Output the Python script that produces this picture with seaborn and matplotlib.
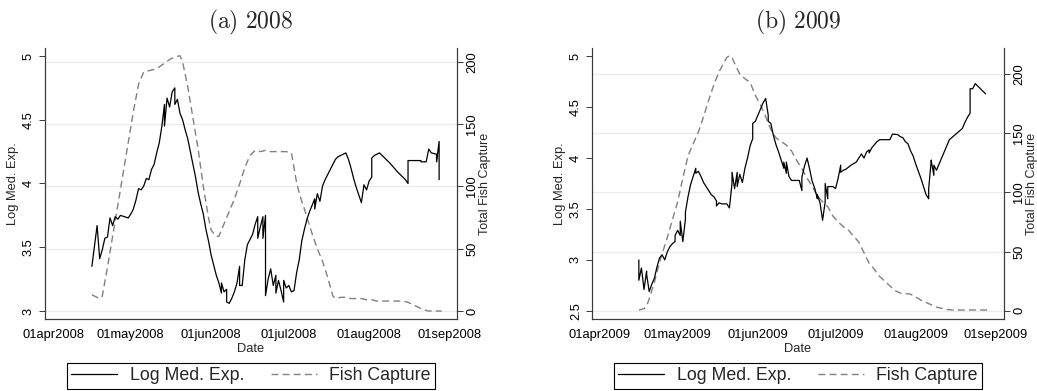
import numpy as np
import pandas as pd
import matplotlib
matplotlib.use("Agg")
import matplotlib.pyplot as plt
import matplotlib.dates as mdates
from matplotlib.ticker import FuncFormatter
from matplotlib.lines import Line2D
import seaborn as sns

# ---------------- data (days counted from 1 April of each year) ----------------
log08_day = [15, 17, 18, 19, 20, 21, 22, 23, 24, 25, 26, 29, 30, 31, 32, 33, 34, 35, 36, 37,
             38, 39, 40, 41, 42, 43, 43, 44, 45, 46, 47, 47, 48, 49, 50, 51, 52, 53, 54, 55,
             56, 57, 58, 59, 60, 61, 62, 63, 64, 65, 65, 66, 67, 67, 68, 69, 70, 71, 72, 72,
             73, 74, 75, 76, 77, 78, 79, 79, 80, 81, 81, 82, 82, 83, 84, 85, 86, 86, 87, 88,
             89, 89, 90, 91, 92, 93, 94, 95, 96, 97, 98, 99, 100, 101, 101, 102, 103, 104, 105, 106,
             107, 108, 109, 110, 111, 112, 113, 114, 115, 116, 117, 118, 119, 120, 121, 122, 123, 123, 124, 126,
             130, 133, 136, 137, 137, 142, 142, 144, 145, 146, 148, 148, 149, 149]
log08_val = [3.35, 3.67, 3.41, 3.48, 3.57, 3.58, 3.73, 3.67, 3.74, 3.72, 3.75, 3.73, 3.76, 3.80, 3.87, 3.96, 3.95, 3.98, 4.04, 4.03,
             4.11, 4.15, 4.24, 4.32, 4.45, 4.62, 4.45, 4.67, 4.60, 4.72, 4.75, 4.62, 4.66, 4.55, 4.50, 4.42, 4.35, 4.25, 4.15, 4.05,
             3.93, 3.84, 3.76, 3.64, 3.55, 3.44, 3.36, 3.28, 3.22, 3.14, 3.22, 3.15, 3.17, 3.07, 3.06, 3.10, 3.15, 3.22, 3.35, 3.20,
             3.20, 3.40, 3.52, 3.56, 3.60, 3.68, 3.74, 3.57, 3.66, 3.74, 3.57, 3.75, 3.12, 3.25, 3.33, 3.20, 3.28, 3.14, 3.24, 3.16,
             3.07, 3.24, 3.18, 3.20, 3.15, 3.16, 3.30, 3.40, 3.55, 3.64, 3.72, 3.78, 3.83, 3.88, 3.80, 3.92, 3.86, 3.98, 4.03, 4.07,
             4.11, 4.15, 4.19, 4.21, 4.22, 4.23, 4.24, 4.19, 4.12, 4.04, 3.97, 3.91, 3.85, 3.99, 3.95, 4.02, 4.05, 4.20, 4.22, 4.24,
             4.16, 4.09, 4.03, 4.00, 4.18, 4.18, 4.17, 4.17, 4.27, 4.24, 4.23, 4.17, 4.33, 4.03]

fish08_day = [15, 18, 19, 21, 23, 25, 27, 29, 31, 33, 35, 37, 39, 41, 43, 45, 47, 49, 50, 52,
              54, 56, 58, 60, 61, 63, 64, 66, 68, 70, 72, 74, 76, 78, 80, 82, 84, 86, 88, 90,
              92, 93, 94, 95, 96, 97, 98, 100, 102, 104, 106, 108, 109, 111, 113, 115, 117, 119, 121, 123,
              125, 127, 129, 131, 133, 135, 137, 139, 141, 143, 145, 147, 149, 150]
fish08_val = [13, 10, 12, 35, 60, 85, 110, 135, 160, 182, 192, 193, 194, 196, 199, 202, 204, 205, 200, 180,
              155, 130, 100, 75, 65, 60, 60, 70, 80, 90, 102, 115, 125, 129, 128, 129, 128, 128, 128, 128,
              127, 115, 103, 95, 88, 82, 75, 62, 50, 40, 27, 12, 10, 11, 11, 10, 10, 10, 9, 9,
              8, 8, 8, 8, 8, 8, 7, 5, 3, 1, 0, 0, 0, 0]

log09_day = [15, 15, 16, 17, 18, 18, 19, 20, 21, 22, 23, 24, 25, 26, 27, 28, 29, 29, 30, 31,
             31, 32, 33, 33, 34, 35, 36, 37, 37, 38, 39, 40, 41, 42, 43, 44, 45, 45, 46, 47,
             49, 50, 51, 51, 52, 53, 53, 54, 55, 56, 57, 58, 59, 59, 60, 61, 62, 63, 64, 65,
             65, 66, 67, 68, 69, 70, 71, 71, 72, 72, 73, 74, 76, 77, 78, 78, 79, 80, 81, 82,
             83, 84, 84, 85, 86, 87, 87, 88, 88, 90, 91, 92, 93, 93, 94, 95, 97, 99, 100, 101,
             102, 103, 104, 104, 105, 106, 107, 108, 112, 113, 115, 116, 117, 118, 119, 120, 121, 122, 123, 124,
             125, 126, 127, 127, 128, 128, 129, 129, 130, 135, 140, 141, 142, 143, 143, 144, 145, 149]
log09_val = [3.00, 2.80, 2.92, 2.71, 2.89, 2.86, 2.69, 2.76, 2.82, 2.93, 3.02, 3.05, 3.00, 3.08, 3.13, 3.16, 3.18, 3.24, 3.29, 3.24,
             3.38, 3.18, 3.40, 3.47, 3.62, 3.74, 3.82, 3.90, 3.85, 3.87, 3.82, 3.76, 3.72, 3.68, 3.64, 3.62, 3.58, 3.53, 3.56, 3.55,
             3.55, 3.51, 3.75, 3.86, 3.70, 3.86, 3.72, 3.84, 3.76, 3.90, 4.00, 4.12, 4.19, 4.34, 4.36, 4.42, 4.48, 4.54, 4.585, 4.42,
             4.36, 4.34, 4.22, 4.13, 4.06, 3.98, 3.90, 3.96, 3.85, 3.96, 3.82, 3.78, 3.78, 3.78, 3.68, 3.81, 3.92, 4.00, 3.89, 3.77,
             3.70, 3.60, 3.64, 3.56, 3.39, 3.57, 3.75, 3.60, 3.72, 3.72, 3.70, 3.80, 3.93, 3.86, 3.88, 3.89, 3.93, 3.96, 4.00, 4.04,
             4.00, 4.06, 4.08, 4.05, 4.10, 4.13, 4.16, 4.18, 4.18, 4.235, 4.23, 4.21, 4.20, 4.16, 4.14, 4.07, 4.02, 3.94, 3.87, 3.80,
             3.72, 3.64, 3.60, 3.70, 3.98, 3.97, 3.83, 3.93, 3.88, 4.18, 4.29, 4.35, 4.40, 4.44, 4.68, 4.68, 4.73, 4.63]

fish09_day = [15, 17, 18, 19, 20, 21, 23, 25, 26, 28, 30, 32, 34, 36, 38, 40, 42, 44, 46, 48,
              49, 50, 51, 52, 54, 56, 58, 60, 62, 64, 66, 68, 70, 72, 74, 76, 78, 80, 82, 84,
              86, 88, 90, 92, 94, 96, 98, 100, 102, 104, 106, 108, 110, 112, 114, 116, 118, 120, 122, 124,
              126, 128, 130, 132, 134, 137, 140, 145, 150]
fish09_val = [0.6, 1.7, 4, 10, 17, 24, 41, 55, 62, 77, 92, 112, 131, 141, 151, 164, 178, 191, 202, 210,
              214, 215.5, 214, 209, 200, 196, 193, 182, 174, 164, 153, 146, 143, 140, 135, 127, 120, 112, 105, 97,
              92, 88, 80, 75, 71, 68, 63, 58, 49, 40, 35, 29, 25, 21, 17, 15, 14.5, 14, 11.5, 9,
              7, 5, 3, 2, 1, 0.6, 0.6, 0.6, 0.6]

panel_titles = ["(a) 2008", "(b) 2009"]
years = [2008, 2009]
left_ticks = [[3, 3.5, 4, 4.5, 5], [2.5, 3, 3.5, 4, 4.5, 5]]
left_ticklabels = [["3", "3.5", "4", "4.5", "5"], ["2.5", "3", "3.5", "4", "4.5", "5"]]
right_ticks = [0, 50, 100, 150, 200]
legend_labels = ["Log Med. Exp.", "Fish Capture"]

# ---------------- style ----------------
sns.set_theme(style="white")
plt.rcParams["font.family"] = ["Liberation Sans", "DejaVu Sans"]
plt.rcParams["mathtext.fontset"] = "cm"

W, H = 1037, 391
fig = plt.figure(figsize=(W / 100, H / 100), dpi=100)

def to_dates(year, days):
    return pd.Timestamp(f"{year}-04-01") + pd.to_timedelta(np.array(days, dtype=float), unit="D")

data = [
    (log08_day, log08_val, fish08_day, fish08_val),
    (log09_day, log09_val, fish09_day, fish09_val),
]
left_lims = [(2.937, 5.063), (2.42, 5.08)]
right_lims = [(-6.4, 211.2), (-7.0, 222.0)]
ax_lefts = [45, 592]
ax_w, ax_top, ax_bot = 412, 48, 319
spine_c = "#3a3a3a"
fs = 9.3

for i in range(2):
    yr = years[i]
    ld, lv, fd, fv = data[i]
    x0 = ax_lefts[i]
    rect = [x0 / W, 1 - ax_bot / H, ax_w / W, (ax_bot - ax_top) / H]
    axR = fig.add_axes(rect)          # fish capture (right axis, carries the grid)
    axL = axR.twinx()                 # log med. exp. (left axis)

    df_f = pd.DataFrame({"date": to_dates(yr, fd), "fish": fv})
    df_l = pd.DataFrame({"date": to_dates(yr, ld), "logexp": lv})

    sns.lineplot(data=df_f, x="date", y="fish", ax=axR, estimator=None, sort=False,
                 color="#808080", lw=1.0, linestyle=(0, (5, 3)))
    sns.lineplot(data=df_l, x="date", y="logexp", ax=axL, estimator=None, sort=False,
                 color="black", lw=0.9)

    axR.yaxis.tick_right()
    axR.yaxis.set_label_position("right")
    axL.yaxis.tick_left()
    axL.yaxis.set_label_position("left")

    axR.set_ylim(*right_lims[i])
    axL.set_ylim(*left_lims[i])
    xmin = pd.Timestamp(f"{yr}-04-01") - pd.Timedelta(days=3.1)
    xmax = pd.Timestamp(f"{yr}-09-01") + pd.Timedelta(days=2.9 if i == 0 else 3.1)
    axR.set_xlim(xmin, xmax)

    month_ticks = [pd.Timestamp(f"{yr}-{m:02d}-01") for m in range(4, 10)]
    axR.set_xticks(month_ticks)
    axR.xaxis.set_major_formatter(FuncFormatter(
        lambda v, p: mdates.num2date(v).strftime("%d%b%Y").lower()))

    axR.set_yticks(right_ticks)
    axR.set_yticklabels([str(t) for t in right_ticks], rotation=90, va="center")
    axL.set_yticks(left_ticks[i])
    axL.set_yticklabels(left_ticklabels[i], rotation=90, va="center")

    axR.grid(axis="y", color="#e4eef0", lw=1.0)
    axR.grid(axis="x", visible=False)
    axL.grid(False)

    for a in (axR, axL):
        a.spines["top"].set_visible(False)
        for s in ("left", "right", "bottom"):
            a.spines[s].set_color(spine_c)
            a.spines[s].set_linewidth(0.8)
        a.tick_params(axis="both", colors=spine_c, labelcolor="black", labelsize=fs,
                      length=4.3, width=0.7, direction="out")
    axR.tick_params(axis="y", pad=2.5)
    axL.tick_params(axis="y", pad=3)
    axR.tick_params(axis="x", pad=3, length=4)
    axR.set_xlabel("Date", fontsize=fs, labelpad=1.5)
    axR.set_ylabel("Total Fish Capture", fontsize=9.0, labelpad=0.3)
    axL.set_ylabel("Log Med. Exp.", fontsize=fs, labelpad=3)

    fig.text((x0 + ax_w / 2) / W, 1 - 22 / H,
             r"$\mathrm{" + panel_titles[i].replace(" ", r"\ ") + "}$",
             ha="center", va="center", fontsize=17)

    handles = [Line2D([], [], color="black", lw=0.9),
               Line2D([], [], color="#808080", lw=1.0, linestyle=(0, (5, 3)))]
    leg = axR.legend(handles, legend_labels, loc="center", ncol=2,
                     bbox_to_anchor=(0.5, (ax_bot - 376) / (ax_bot - ax_top)),
                     fontsize=12.8, frameon=True, fancybox=False, framealpha=1,
                     edgecolor="black", borderpad=0.25, handlelength=2.6,
                     handletextpad=0.7, columnspacing=1.5)
    leg.get_frame().set_linewidth(0.8)

fig.savefig("out.png", dpi=100)
